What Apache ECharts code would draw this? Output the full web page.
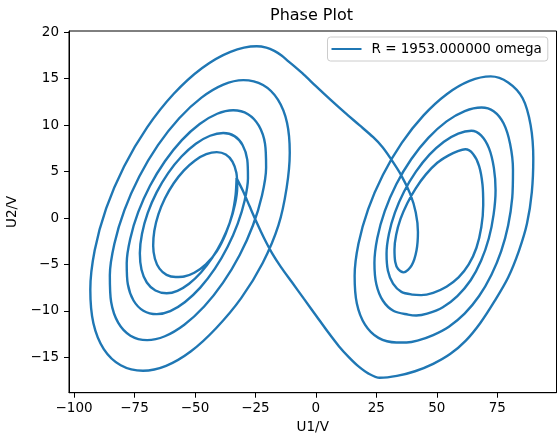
<!DOCTYPE html>
<html>
<head>
<meta charset="utf-8">
<script src="https://cdn.jsdelivr.net/npm/echarts@6/dist/echarts.min.js"></script>
<style>
  html, body { margin: 0; padding: 0; background: #fff; }
  #chart { width: 559px; height: 435px; }
</style>
</head>
<body>
<div id="chart"></div>
<script>
// Axis ticks
const xTicks = [-100, -75, -50, -25, 0, 25, 50, 75];
const yTicks = [-15, -10, -5, 0, 5, 10, 15, 20];
const seriesName = 'R = 1953.000000 omega';

// Trajectory pieces, [U1, U2] in volts, in the order the orbit runs.
// Left scroll: starts at the turning point and spirals outward.
const leftStart = [[-32.8,4.3],[-33.2,2.5],[-34.6,0.4],[-37.3,-1.7],[-41,-3.6],[-45.5,-5.0],[-50.3,-5.9],[-54.5,-6.3],[-58,-6.35]];
const leftUp1 = [[-58,-6.35],[-61.76,-6.12],[-64.68,-5.45],[-66.57,-4.38],[-67.29,-2.99],[-66.81,-1.37],[-65.14,0.38],[-62.41,2.12],[-58.79,3.74],[-54.55,5.13],[-49.96,6.2],[-45.34,6.87],[-41,7.1]];
const leftDown1 = [[-41,7.1],[-37.27,6.84],[-34.51,6.08],[-32.89,4.87],[-32.54,3.3],[-33.46,1.47],[-35.6,-0.5],[-38.82,-2.47],[-42.89,-4.3],[-47.53,-5.87],[-52.44,-7.08],[-57.27,-7.84],[-61.7,-8.1]];
const leftUp2 = [[-61.7,-8.1],[-66.36,-7.81],[-69.92,-6.94],[-72.11,-5.57],[-72.8,-3.79],[-71.93,-1.71],[-69.57,0.53],[-65.87,2.76],[-61.1,4.84],[-55.57,6.62],[-49.65,8.0],[-43.76,8.86],[-38.3,9.15]];
const leftDown2 = [[-38.3,9.15],[-33.66,8.82],[-30.28,7.84],[-28.38,6.29],[-28.09,4.28],[-29.43,1.92],[-32.32,-0.6],[-36.55,-3.12],[-41.84,-5.48],[-47.82,-7.49],[-54.1,-9.04],[-60.22,-10.02],[-65.8,-10.35]];
const leftUp3 = [[-65.8,-10.35],[-71.34,-9.98],[-75.42,-8.88],[-77.77,-7.14],[-78.23,-4.86],[-76.77,-2.22],[-73.48,0.63],[-68.59,3.47],[-62.43,6.11],[-55.43,8.39],[-48.06,10.13],[-40.82,11.23],[-34.2,11.6]];
const leftDown3 = [[-34.2,11.6],[-28.08,11.18],[-23.59,9.94],[-21.03,7.98],[-20.59,5.41],[-22.29,2.43],[-26.01,-0.78],[-31.51,-3.98],[-38.39,-6.96],[-46.21,-9.53],[-54.41,-11.49],[-62.46,-12.73],[-69.8,-13.15]];
const leftUp4 = [[-69.8,-13.15],[-76.7,-12.67],[-81.77,-11.27],[-84.67,-9.05],[-85.21,-6.15],[-83.33,-2.77],[-79.18,0.85],[-73.03,4.47],[-65.31,7.85],[-56.53,10.75],[-47.31,12.97],[-38.26,14.37],[-30,14.85]];
const leftDown4 = [[-30,14.85],[-21.87,14.32],[-15.71,12.75],[-11.94,10.27],[-10.81,7.03],[-12.1,3.25],[-15.5,-0.8],[-22,-4.85],[-30.9,-8.63],[-41.28,-11.87],[-51.65,-14.35],[-61.95,-15.92],[-71.5,-16.45]];
const leftUp5 = [[-71.5,-16.45],[-80.72,-15.85],[-87.72,-14.11],[-92.01,-11.33],[-93.29,-7.71],[-91.49,-3.5],[-86.73,1.03],[-79.33,5.55],[-69.79,9.76],[-58.77,13.38],[-47.02,16.16],[-35.32,17.9],[-24.5,18.5]];

// Jump across the top into the right scroll
const bridgeTop = [[-24.5,18.5],[-20.5,18.35],[-17.2,18.0],[-14.2,17.5],[-11.5,16.9],[-8.5,16.25],[-5,15.45],[0,14.2],[6,12.75],[12,11.35],[18,10.0],[23.7,8.7],[27.5,7.65],[30.8,6.45],[35.3,4.6],[39,2.6],[41.3,0.6],[42.2,-1.5],[41.6,-3.5],[39.6,-5.1],[36.3,-5.85]];

// Right scroll, spiralling outward
const rightUp1 = [[36.3,-5.85],[34,-5.5],[32.8,-4.7],[32.5,-3.4],[33.2,-1.8],[35,-0.1],[37.8,1.6],[41.3,3.2],[45.5,4.7],[50.2,5.95],[54.9,6.75],[58.7,7.2],[61.8,7.4]];
const rightDown1 = [[61.8,7.4],[65,6.9],[67.5,5.6],[68.9,3.6],[69.2,1.4],[68.4,-1.0],[66.4,-3.2],[63.2,-5.0],[59,-6.4],[54,-7.4],[48.5,-8.05],[43.5,-8.3],[40,-8.25]];
const rightUp2 = [[40,-8.25],[35.37,-7.95],[31.9,-7.07],[29.79,-5.67],[29.22,-3.84],[30.2,-1.71],[32.68,0.58],[36.48,2.86],[41.37,4.99],[46.97,6.82],[52.94,8.22],[58.85,9.1],[64.3,9.4]];
const rightDown2 = [[64.3,9.4],[68.3,8.9],[71.6,7.5],[73.6,5.4],[74.3,3.0],[73.5,0.4],[71.5,-2.2],[68.3,-4.6],[64,-6.7],[58.5,-8.4],[52.5,-9.6],[46,-10.3],[41.5,-10.5],[38.1,-10.4]];
const rightUp3 = [[38.1,-10.4],[32.2,-10.02],[27.73,-8.91],[25.0,-7.13],[24.21,-4.83],[25.4,-2.14],[28.48,0.75],[33.26,3.64],[39.41,6.33],[46.5,8.63],[54.05,10.41],[61.56,11.52],[68.5,11.9]];
const rightDown3 = [[68.5,11.9],[73.5,11.5],[77.6,10.2],[80.3,8.0],[81.5,5.2],[81.2,2.2],[79.5,-0.8],[76.6,-3.6],[72.6,-6.1],[67.5,-8.4],[61.5,-10.3],[55,-11.7],[48.5,-12.6],[42,-13.2],[37.5,-13.4],[33.3,-13.4]];
const rightUp4 = [[33.3,-13.4],[25.88,-12.91],[20.31,-11.48],[16.94,-9.2],[16.02,-6.24],[17.6,-2.78],[21.59,0.93],[27.7,4.63],[35.52,8.09],[44.52,11.05],[54.09,13.33],[63.56,14.76],[72.3,15.25]];
const rightDown4 = [[72.3,15.25],[79.5,14.6],[85.5,12.9],[88.8,10.0],[89.9,6.4],[89.3,2.8],[87.3,-0.6],[84,-3.5],[79.5,-6.4],[74,-8.9],[68,-11.3],[62,-13.2],[55.5,-14.65],[48.5,-15.7],[41,-16.5],[33.5,-17.0],[26.4,-17.2]];

// Jump back across the bottom to the left turning point
const bridgeBottom = [[26.4,-17.2],[21.8,-16.75],[17.5,-15.95],[13.5,-14.95],[9.5,-13.8],[5.0,-12.28],[0.33,-10.6],[-4.92,-8.71],[-9.88,-6.92],[-14.43,-5.28],[-18.15,-3.77],[-21.46,-2.15],[-24.56,-0.43],[-27.45,1.29],[-30.14,2.91],[-32.8,4.3]];

const pieces = [leftStart, leftUp1, leftDown1, leftUp2, leftDown2, leftUp3, leftDown3,
  leftUp4, leftDown4, leftUp5, bridgeTop, rightUp1, rightDown1, rightUp2, rightDown2,
  rightUp3, rightDown3, rightUp4, rightDown4, bridgeBottom];

// Join the pieces into one path, skipping the shared end points
const orbit = [];
pieces.forEach(function (p, i) {
  p.forEach(function (pt, j) {
    if (i > 0 && j === 0) return;
    orbit.push(pt);
  });
});

const FONT = 'DejaVu Sans';
const fmt = function (v) { return v < 0 ? '\u2212' + Math.abs(v) : String(v); };

const chart = echarts.init(document.getElementById('chart'), null, { renderer: 'canvas' });
chart.setOption({
  animation: false,
  backgroundColor: '#ffffff',
  title: {
    text: 'Phase Plot',
    left: 270, top: 8, padding: 0,
    textStyle: { fontFamily: FONT, fontSize: 16, fontWeight: 'normal', color: '#000' }
  },
  legend: {
    data: [seriesName],
    left: 327.5, top: 37, orient: 'horizontal',
    padding: [4, 6, 4, 4],
    icon: 'rect', itemWidth: 30, itemHeight: 2,
    backgroundColor: 'rgba(255,255,255,0.8)',
    borderColor: '#cccccc', borderWidth: 1, borderRadius: 3,
    textStyle: { fontFamily: FONT, fontSize: 13.5, color: '#000', padding: [0, 0, 0, 5], lineHeight: 16 }
  },
  grid: {
    left: 69, right: 2.5, top: 31, bottom: 42.3,
    outerBoundsMode: 'none', containLabel: false,
    show: true, borderColor: '#000', borderWidth: 1, backgroundColor: '#fff'
  },
  xAxis: {
    type: 'value', min: -102.1, max: 99.5,
    splitLine: { show: false },
    axisLine: { onZero: false, lineStyle: { color: '#000', width: 1 } },
    axisTick: { customValues: xTicks, length: 5, lineStyle: { color: '#000', width: 1 } },
    axisLabel: { customValues: xTicks, formatter: fmt, color: '#000', fontFamily: FONT, fontSize: 13.5, margin: 9 },
    name: 'U1/V', nameLocation: 'middle', nameGap: 20,
    nameTextStyle: { fontFamily: FONT, fontSize: 13.5, color: '#000' }
  },
  yAxis: {
    type: 'value', min: -18.81, max: 20.14,
    splitLine: { show: false },
    axisLine: { onZero: false, lineStyle: { color: '#000', width: 1 } },
    axisTick: { customValues: yTicks, length: 5, lineStyle: { color: '#000', width: 1 } },
    axisLabel: { customValues: yTicks, formatter: fmt, color: '#000', fontFamily: FONT, fontSize: 13.5, margin: 10 },
    name: 'U2/V', nameLocation: 'middle', nameGap: 43, nameRotate: 90,
    nameTextStyle: { fontFamily: FONT, fontSize: 13.5, color: '#000' }
  },
  series: [{
    name: seriesName,
    type: 'line',
    data: orbit,
    showSymbol: false,
    smooth: 0.3,
    clip: true,
    lineStyle: { width: 2.4, color: '#1f77b4' },
    itemStyle: { color: '#1f77b4' }
  }]
});
</script>
</body>
</html>
